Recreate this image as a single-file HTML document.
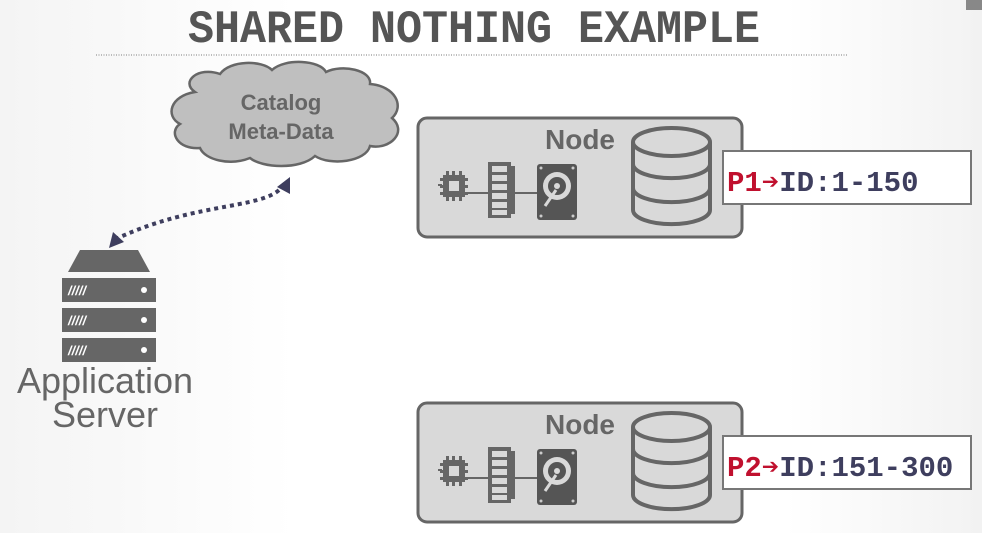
<!DOCTYPE html>
<html><head><meta charset="utf-8"><style>
html,body{margin:0;padding:0;width:982px;height:533px;overflow:hidden;background:linear-gradient(90deg,#f4f4f4,#fff 30%,#fff 80%,#f2f2f2);}
svg{display:block}
</style></head><body>
<svg width="982" height="533" viewBox="0 0 982 533" xmlns="http://www.w3.org/2000/svg">
<defs>
<g id="node">
  <rect x="418" y="0" width="324" height="119" rx="9" fill="#d9d9d9" stroke="#666" stroke-width="3"/>
  <text x="580" y="31" font-family="Liberation Sans, sans-serif" font-weight="bold" font-size="28" fill="#666" text-anchor="middle">Node</text>
  <g fill="#666">
    <rect x="443" y="57" width="22" height="22"/>
    <rect x="440" y="60" width="3" height="3"/><rect x="440" y="67" width="3" height="3"/><rect x="440" y="74" width="3" height="3"/>
    <rect x="465" y="60" width="3" height="3"/><rect x="465" y="67" width="3" height="3"/><rect x="465" y="74" width="3" height="3"/>
    <rect x="446" y="53" width="3" height="4"/><rect x="452" y="53" width="3" height="4"/><rect x="459" y="53" width="3" height="4"/>
    <rect x="446" y="79" width="3" height="4"/><rect x="452" y="79" width="3" height="4"/><rect x="459" y="79" width="3" height="4"/>
    <rect x="438" y="66" width="4" height="2"/>
  </g>
  <rect x="449" y="63" width="10" height="10" fill="#d9d9d9"/>
  <line x1="468" y1="75" x2="488" y2="75" stroke="#666" stroke-width="2"/>
  <rect x="488" y="44" width="23" height="56" fill="#666"/>
  <rect x="511" y="48" width="4" height="48" fill="#666"/>
  <g fill="#d9d9d9">
    <rect x="492" y="48" width="15" height="6"/><rect x="492" y="57" width="15" height="6"/><rect x="492" y="66" width="15" height="6"/>
    <rect x="492" y="75" width="15" height="6"/><rect x="492" y="84" width="15" height="6"/><rect x="492" y="92" width="15" height="5"/>
  </g>
  <line x1="515" y1="75" x2="537" y2="75" stroke="#666" stroke-width="2"/>
  <rect x="537" y="46" width="40" height="56" rx="3" fill="#555"/>
  <circle cx="557" cy="68" r="14" fill="#d9d9d9"/>
  <circle cx="557" cy="68" r="9" fill="#555"/>
  <circle cx="557" cy="68" r="3" fill="#d9d9d9"/>
  <path d="M545 88 L556 72" stroke="#d9d9d9" stroke-width="3"/>
  <circle cx="541" cy="50" r="1.5" fill="#ccc"/><circle cx="573" cy="50" r="1.5" fill="#ccc"/>
  <circle cx="541" cy="98" r="1.5" fill="#ccc"/><circle cx="573" cy="98" r="1.5" fill="#ccc"/>
  <g fill="none" stroke="#666" stroke-width="4">
    <path d="M633 24 v68 a38 14 0 0 0 77 0 v-68"/>
    <ellipse cx="671.5" cy="24" rx="38.5" ry="14"/>
    <path d="M633 46 a38 14 0 0 0 77 0"/>
    <path d="M633 70 a38 14 0 0 0 77 0"/>
  </g>
</g>
</defs>
<rect x="966" y="0" width="16" height="10" fill="#888"/>
<text x="188" y="42" font-family="Liberation Mono, monospace" font-weight="bold" font-size="46" fill="#555" textLength="572" lengthAdjust="spacingAndGlyphs">SHARED NOTHING EXAMPLE</text>
<line x1="96" y1="55" x2="848" y2="55" stroke="#bbb" stroke-width="2" stroke-dasharray="1 1.5"/>

<path d="M195 92 C180 82,198 66,220 74 C230 60,262 60,272 70 C285 58,320 60,326 72 C342 64,372 70,370 84 C395 86,405 106,392 118 C408 132,390 150,370 146 C366 162,330 166,315 156 C300 170,262 168,250 158 C230 166,205 160,200 148 C178 150,168 132,180 124 C165 116,170 96,195 92 Z" fill="#bfbfbf" stroke="#666" stroke-width="2.5"/>
<text x="281" y="110" font-family="Liberation Sans, sans-serif" font-weight="bold" font-size="22" fill="#666" text-anchor="middle">Catalog</text>
<text x="281" y="139" font-family="Liberation Sans, sans-serif" font-weight="bold" font-size="22" fill="#666" text-anchor="middle">Meta-Data</text>

<path d="M284 184 C270 210,200 200,118 238" fill="none" stroke="#3e3e5e" stroke-width="4" stroke-dasharray="4 4"/>
<polygon points="290,177 290,194 277,187" fill="#3e3e5e"/>
<polygon points="109,248 113,232 124,242" fill="#3e3e5e"/>

<polygon points="80,250 138,250 150,272 68,272" fill="#666"/>
<g fill="#666">
<rect x="62" y="278" width="94" height="24"/><rect x="62" y="308" width="94" height="24"/><rect x="62" y="338" width="94" height="24"/>
</g>
<g fill="#fff" font-family="Liberation Sans, sans-serif" font-weight="bold" font-style="italic" font-size="13">
<text x="68" y="295">/////</text><text x="68" y="325">/////</text><text x="68" y="355">/////</text>
</g>
<circle cx="144" cy="290" r="3" fill="#fff"/><circle cx="144" cy="320" r="3" fill="#fff"/><circle cx="144" cy="350" r="3" fill="#fff"/>
<text x="105" y="393" font-family="Liberation Sans, sans-serif" font-size="36" fill="#666" text-anchor="middle">Application</text>
<text x="105" y="427" font-family="Liberation Sans, sans-serif" font-size="36" fill="#666" text-anchor="middle">Server</text>

<use href="#node" y="118"/>
<use href="#node" y="403"/>

<rect x="723" y="151" width="248" height="53" fill="#fff" stroke="#777" stroke-width="2"/>
<text x="727" y="191" font-family="Liberation Mono, monospace" font-weight="bold" font-size="29"><tspan fill="#c0102e">P1➔</tspan><tspan fill="#3e3e5e">ID:1-150</tspan></text>
<rect x="723" y="436" width="248" height="53" fill="#fff" stroke="#777" stroke-width="2"/>
<text x="727" y="476" font-family="Liberation Mono, monospace" font-weight="bold" font-size="29"><tspan fill="#c0102e">P2➔</tspan><tspan fill="#3e3e5e">ID:151-300</tspan></text>
</svg>
</body></html>
